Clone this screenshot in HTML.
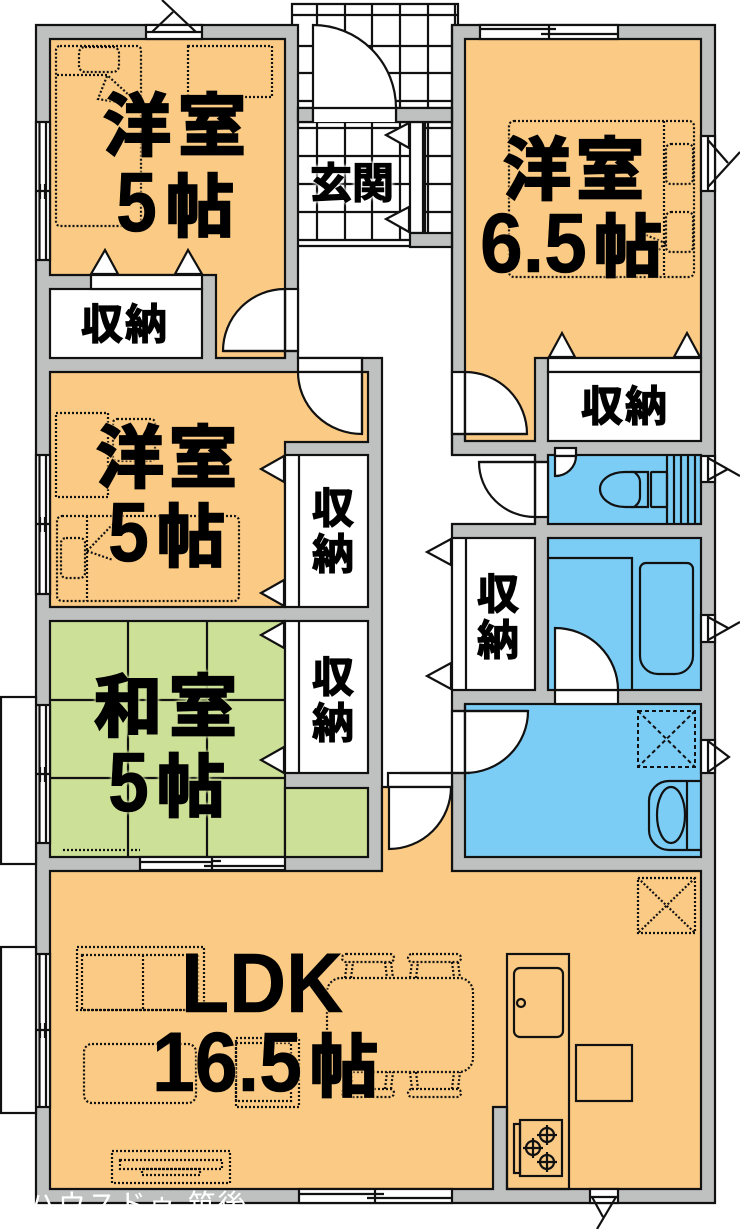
<!DOCTYPE html>
<html><head><meta charset="utf-8"><style>
html,body{margin:0;padding:0;background:#fff}
svg{display:block}
.l{fill:none;stroke:#111;stroke-width:2.2}
.w{fill:#fff;stroke:#111;stroke-width:2.2}
.d{fill:none;stroke:#111;stroke-width:2.2;stroke-dasharray:2 2}
.b{fill:#7ccdf5;stroke:#111;stroke-width:2.2}
.o{fill:#fbcb85;stroke:#111;stroke-width:2.2}
.g{fill:#cde097;stroke:#111;stroke-width:2.2}
.t{font-family:"Liberation Sans","Noto Sans CJK JP",sans-serif;font-weight:700;fill:#000;stroke:#000}
.big{font-size:68px;stroke-width:2.4}
.num{font-size:84px;stroke-width:.6}
.sm{font-size:42px;stroke-width:1.3}
.ho{filter:drop-shadow(0 0 1px #fbcb85) drop-shadow(0 0 1px #fbcb85)}
.hg{filter:drop-shadow(0 0 1.5px #cde097) drop-shadow(0 0 1.5px #cde097)}
.hw{filter:drop-shadow(0 0 1.5px #fff) drop-shadow(0 0 1.5px #fff)}
</style></head><body>
<svg width="740" height="1229" viewBox="0 0 740 1229" xmlns="http://www.w3.org/2000/svg">
<rect width="740" height="1229" fill="#fff"/>
<!-- porch + entrance tiles -->
<g class="l">
<path d="M292 25V4H458V25M455 4V25M292 15H458"/>
<path d="M317 4V108M345 4V108M372 4V108M400 4V108M428 4V108"/>
<path d="M298 46H452M298 73H452M298 101H452M298 108H452"/>
<path d="M298 122H452M298 128H410M425 128H452M298 156H452M298 184H452M298 212H452M298 240H410M298 246H452"/>
<path d="M317 122V240M345 122V240M372 122V240M400 122V240M428 122V233"/>
</g>
<rect x="410" y="122" width="13" height="111" class="w"/>
<path d="M425 122V233" class="l"/>
<!-- walls -->
<path d="M36 25H298V358H382V871H452V524H535V455H452V25H715V1203H36Z" fill="#bfc1c0" stroke="#111" stroke-width="2.2"/>
<rect x="298" y="108" width="15" height="14" style="fill:#bfc1c0" class="l"/>
<rect x="396" y="108" width="56" height="14" style="fill:#bfc1c0" class="l"/>
<rect x="410" y="233" width="42" height="14" style="fill:#bfc1c0" class="l"/>
<path d="M452 25V455" class="l"/>
<!-- genkan door -->
<rect x="313" y="108" width="83" height="14" fill="#fff"/>
<path d="M313 122V25A83 83 0 0 1 396 108V122M313 108H396" class="w"/>
<!-- rooms -->
<path d="M50 39H285V358H216V275H50Z" class="o"/>
<rect x="50" y="289" width="152" height="69" class="w"/>
<rect x="91" y="275" width="111" height="14" class="w"/>
<path d="M50 372H368V442H285V607H50Z" class="o"/>
<rect x="285" y="455" width="83" height="152" class="w"/><path d="M299 455V607" class="l"/>
<rect x="50" y="621" width="235" height="236" class="g"/>
<path d="M128 621V857M207 621V857M50 700H285M50 778H285" class="l"/>
<rect x="285" y="621" width="83" height="152" class="w"/><path d="M299 621V773" class="l"/>
<rect x="285" y="788" width="83" height="69" class="g"/>
<path d="M50 871H382V787H452V871H701V1189H507V1107H493V1189H50Z" class="o"/>
<path d="M465 39H701V358H535V441H465Z" class="o"/>
<rect x="548" y="358" width="153" height="14" class="w"/>
<rect x="548" y="372" width="153" height="69" class="w"/>
<rect x="548" y="455" width="153" height="69" class="b"/>
<rect x="548" y="538" width="153" height="152" class="b"/>
<path d="M548 558H632V690" class="l"/>
<rect x="452" y="538" width="83" height="152" class="w"/><path d="M466 538V690" class="l"/>
<rect x="465" y="704" width="236" height="153" class="b"/>
<!-- triangles -->
<g class="w">
<path d="M91 274L105 250L118 274Z"/><path d="M175 274L188 250L202 274Z"/>
<path d="M549 357L562 333L575 357Z"/><path d="M674 357L687 333L700 357Z"/>
<path d="M284 456L261 469L284 482Z"/><path d="M284 580L261 593L284 606Z"/>
<path d="M284 622L261 635L284 648Z"/><path d="M284 747L261 760L284 773Z"/>
<path d="M451 539L427 552L451 565Z"/><path d="M451 663L427 676L451 689Z"/>
<path d="M409 123L386 135L409 148Z"/><path d="M409 207L386 219L409 232Z"/>
</g>
<!-- doors -->
<rect x="285" y="289" width="13" height="62" class="w"/>
<path d="M285 351H223A62 62 0 0 1 285 289Z" class="w"/><path d="M285 289V358M223 351H298" class="l"/>
<rect x="298" y="358" width="64" height="14" class="w"/>
<path d="M362 372H298A64 62 0 0 0 362 434Z" class="w"/><path d="M362 358V434" class="l"/>
<rect x="452" y="372" width="13" height="62" class="w"/>
<path d="M465 434V372A62 62 0 0 1 527 434Z" class="w"/><path d="M452 434H527M465 372V441" class="l"/>
<rect x="535" y="462" width="13" height="55" class="w"/>
<path d="M535 462H479A56 55 0 0 0 535 517Z" class="w"/><path d="M479 462H548M535 455V524" class="l"/>
<rect x="555" y="448" width="21" height="8" class="w"/>
<path d="M555 456H576A21 20 0 0 1 555 476Z" class="w"/>
<rect x="555" y="690" width="63" height="14" class="w"/>
<path d="M555 690V628A63 62 0 0 1 618 690Z" class="w"/>
<rect x="452" y="711" width="13" height="62" class="w"/>
<path d="M465 711H528A63 62 0 0 1 465 773Z" class="w"/><path d="M452 711H528M465 704V780" class="l"/>
<rect x="388" y="773" width="64" height="14" class="w"/>
<path d="M389 787H451A62 62 0 0 1 389 849Z" class="w"/><path d="M400 773H470" class="l"/>
<!-- windows left -->
<g class="w">
<rect x="36" y="122" width="14" height="138"/><path d="M39.500 122V260M46 122V260M36 191H50M40 184V199M45 184V199" class="l"/>
<rect x="36" y="455" width="14" height="139"/><path d="M39.500 455V594M46 455V594M36 524H50M40 517V532M45 517V532" class="l"/>
<rect x="36" y="705" width="14" height="138"/><path d="M39.500 705V843M46 705V843M36 774H50M40 767V782M45 767V782" class="l"/>
<rect x="36" y="954" width="14" height="153"/><path d="M39.500 954V1107M46 954V1107M36 1030H50M40 1023V1038M45 1023V1038" class="l"/>
<rect x="1" y="697" width="35" height="167"/>
<rect x="1" y="947" width="35" height="166"/>
</g>
<!-- windows top/bottom -->
<rect x="146" y="25" width="56" height="14" class="w"/><path d="M146 32H202" class="l"/>
<path d="M162 0L196 32M173 12L152 32" class="l"/>
<rect x="140" y="857" width="145" height="13" class="w"/><path d="M140 862H212M212 866H285M212 857V870M204 866H220M212 861H221" class="l"/>
<rect x="480" y="25" width="138" height="14" class="w"/><path d="M480 29H549M549 34H618M549 25V39M541 34H557M549 29H556" class="l"/>
<rect x="299" y="1189" width="153" height="14" class="w"/><path d="M299 1194H375M375 1198H452M375 1189V1203M367 1198H384M375 1194H384" class="l"/>
<rect x="590" y="1189" width="28" height="14" class="w"/><path d="M590 1197H618M592 1197L603 1217M616 1197L597 1229" class="l"/>
<!-- right vents -->
<g>
<rect x="701" y="136" width="14" height="55" class="w"/><path d="M708 136V191M708 140L728 163M708 187L740 152" class="l"/>
<rect x="701" y="456" width="14" height="26" class="w"/><path d="M708 456V482M708 458L740 476M708 480L728 469" class="l"/>
<rect x="701" y="615" width="14" height="27" class="w"/><path d="M708 615V642M708 617L728 628M708 640L740 622" class="l"/>
<rect x="701" y="740" width="14" height="33" class="w"/><path d="M708 740V773M708 741L729 757L708 772" class="l"/>
</g>
<!-- fixtures -->
<path d="M667 455V524M674 455V524M681 455V524M688 455V524M695 455V524" class="l"/>
<path d="M634 472H625C610 472 600 480 600 489C600 498 610 507 625 507H634" class="l"/>
<path d="M634 472H648V507H634Q640 503 640 497V482Q640 476 634 472Z" class="l"/>
<rect x="651" y="472" width="16" height="35" rx="1" class="l"/>
<path d="M640 569a6 6 0 0 1 6-6h41a6 6 0 0 1 6 6v87a18 18 0 0 1-18 18h-17a18 18 0 0 1-18-18Z" class="l"/>
<path d="M701 781H669A20 20 0 0 0 649 801V830A20 20 0 0 0 669 850H701M687 781V850" class="l"/>
<ellipse cx="671" cy="815" rx="14" ry="28" class="l"/>
<rect x="638" y="711" width="57" height="56" fill="none" stroke="#111" stroke-width="2" stroke-dasharray="4 3"/>
<path d="M638 711L695 767M695 711L638 767" fill="none" stroke="#111" stroke-width="2" stroke-dasharray="4 3"/>
<rect x="507" y="954" width="62" height="235" class="l"/>
<rect x="514" y="968" width="49" height="69" rx="6" class="l"/>
<circle cx="521" cy="1003" r="4" class="l"/>
<rect x="514" y="1124" width="6" height="49" class="l"/>
<rect x="520" y="1120" width="42" height="56" class="l"/>
<g class="l">
<circle cx="547" cy="1135" r="7"/><path d="M537 1135H557M547 1125V1145"/>
<circle cx="533" cy="1148" r="7"/><path d="M523 1148H543M533 1138V1158"/>
<circle cx="547" cy="1162" r="7"/><path d="M537 1162H557M547 1152V1172"/>
</g>
<rect x="576" y="1045" width="56" height="56" class="l"/>
<!-- dotted furniture -->
<g class="d">
<rect x="56" y="46" width="85" height="180" rx="4"/>
<rect x="79" y="47" width="40" height="25" rx="6"/>
<path d="M57 75H107L130 96M107 76L98 99L122 103"/>
<rect x="188" y="46" width="84" height="51"/>
<rect x="509" y="121" width="185" height="156" rx="5"/>
<path d="M664 121V277M646 235L665 243L650 260"/>
<rect x="666" y="144" width="27" height="40" rx="5"/>
<rect x="666" y="212" width="27" height="40" rx="5"/>
<rect x="56" y="413" width="52" height="84"/>
<rect x="113" y="419" width="42" height="42" rx="4"/>
<rect x="57" y="516" width="182" height="85" rx="5"/>
<path d="M87 516V601M87 551L113 524M87 551L113 560"/>
<rect x="61" y="538" width="24" height="40" rx="5"/>
<path d="M63 850H140"/>
<rect x="77" y="947" width="127" height="63"/>
<rect x="82" y="955" width="116" height="55"/>
<path d="M143 955V1010"/>
<rect x="84" y="1044" width="112" height="59" rx="8"/>
<rect x="236" y="1038" width="63" height="69"/>
<rect x="236" y="1043" width="55" height="58"/>
<rect x="112" y="1151" width="118" height="32"/>
<rect x="120" y="1160" width="102" height="9"/>
<rect x="142" y="1169" width="58" height="6"/>
<rect x="327" y="978" width="146" height="94" rx="14"/>
<rect x="342" y="954" width="52" height="8" rx="4"/>
<rect x="408" y="954" width="53" height="8" rx="4"/>
<rect x="342" y="1089" width="52" height="8" rx="4"/>
<rect x="408" y="1089" width="53" height="8" rx="4"/>
<path d="M345 978L347 962M351 978L353 962M385 962L387 978M391 962L393 978M410 978L412 962M416 978L418 962M452 962L454 978M458 962L460 978"/>
<path d="M345 1072L347 1089M351 1072L353 1089M385 1089L387 1072M391 1089L393 1072M410 1072L412 1089M416 1072L418 1089M452 1089L454 1072M458 1089L460 1072"/>
<rect x="638" y="878" width="57" height="55"/>
<path d="M638 878L695 933M695 878L638 933"/>
</g>
<!-- labels -->
<g class="t big ho">
<text x="103" y="150">洋</text><text x="178" y="150">室</text>
<text x="166" y="231">帖</text>
<text x="96" y="482">洋</text><text x="169" y="482">室</text>
<text x="157" y="561">帖</text>
<text x="503" y="194">洋</text><text x="576" y="194">室</text>
<text x="594" y="271">帖</text>
<text x="310" y="1091">帖</text>
</g>
<g class="t num ho">
<text x="116" y="231" textLength="41" lengthAdjust="spacingAndGlyphs">5</text>
<text x="108" y="561" textLength="41" lengthAdjust="spacingAndGlyphs">5</text>
<text x="480" y="272" textLength="107" lengthAdjust="spacingAndGlyphs">6.5</text>
<text x="181" y="1012" textLength="162" lengthAdjust="spacingAndGlyphs">LDK</text>
<text x="152" y="1091" textLength="150" lengthAdjust="spacingAndGlyphs">16.5</text>
</g>
<g class="t big hg">
<text x="94" y="731">和</text><text x="169" y="731">室</text>
<text x="157" y="811">帖</text>
</g>
<text x="108" y="811" textLength="41" lengthAdjust="spacingAndGlyphs" class="t num hg">5</text>
<g class="t sm hw">
<text x="81" y="339">収</text><text x="125" y="339">納</text>
<text x="581" y="421">収</text><text x="625" y="421">納</text>
<text x="312" y="523">収</text><text x="312" y="569">納</text>
<text x="312" y="692">収</text><text x="312" y="738">納</text>
<text x="477" y="609">収</text><text x="477" y="655">納</text>
<text x="310" y="198">玄</text><text x="352" y="198">関</text>
</g>
<text x="28" y="1214" font-family="'Liberation Sans','Noto Sans CJK JP',sans-serif" font-size="28" fill="#fff" letter-spacing="2">ハウスドゥ 筑後</text>
</svg>
</body></html>
